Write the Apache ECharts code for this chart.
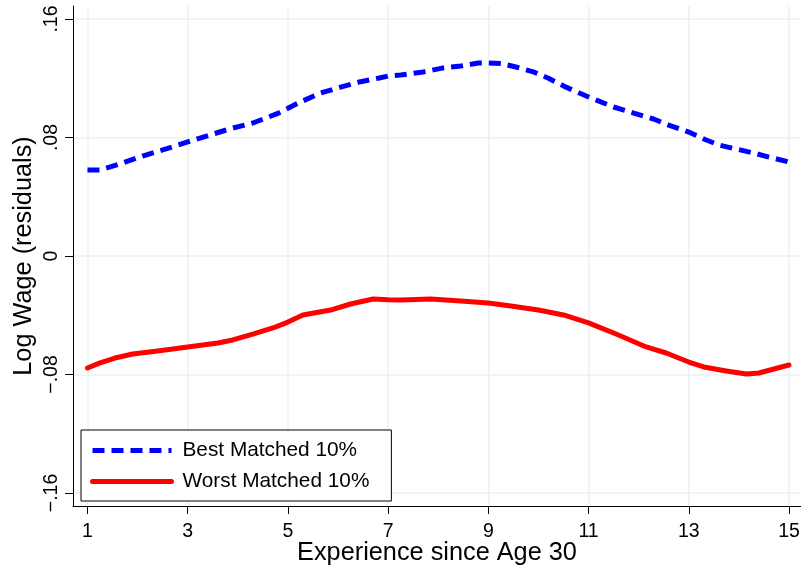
<!DOCTYPE html>
<html>
<head>
<meta charset="utf-8">
<script src="https://cdn.jsdelivr.net/npm/echarts@6/dist/echarts.min.js"></script>
<style>
html,body{margin:0;padding:0;background:#fff;}
#chart{width:801px;height:569px;}
</style>
</head>
<body>
<div id="chart"></div>
<script>
// Data
var bestX = [1, 1.25, 1.7, 2.1, 2.5, 3, 3.5, 3.9, 4.3, 4.8, 5, 5.25, 5.65, 6.05, 6.45, 6.8, 7, 7.25, 7.7, 8.1, 8.45, 8.8, 9, 9.25, 9.55, 9.9, 10.2, 10.55, 11, 11.5, 11.9, 12.3, 12.6, 13, 13.35, 13.6, 13.95, 14.3, 14.6, 15];
var bestY = [0.0581, 0.058, 0.0628, 0.0675, 0.0716, 0.077, 0.0823, 0.0864, 0.0898, 0.0963, 0.0997, 0.104, 0.110, 0.114, 0.1177, 0.120, 0.1215, 0.1222, 0.1243, 0.127, 0.1283, 0.1303, 0.1303, 0.130, 0.1276, 0.1243, 0.120, 0.114, 0.1074, 0.1006, 0.0965, 0.0925, 0.0884, 0.0837, 0.0783, 0.075, 0.0722, 0.0695, 0.0668, 0.0635];
var worstX = [1, 1.25, 1.55, 1.9, 2.4, 3, 3.6, 3.9, 4.3, 4.7, 5, 5.3, 5.85, 6.25, 6.7, 7, 7.25, 7.85, 8.45, 9, 9.45, 10, 10.5, 11, 11.55, 12.15, 12.55, 13, 13.3, 13.75, 14.15, 14.4, 15];
var worstY = [-0.0756, -0.0722, -0.0689, -0.0662, -0.0641, -0.0614, -0.0587, -0.0567, -0.0527, -0.0486, -0.0446, -0.0398, -0.0365, -0.0324, -0.029, -0.0295, -0.0297, -0.029, -0.0304, -0.0317, -0.0338, -0.0365, -0.0398, -0.0452, -0.0527, -0.0614, -0.0655, -0.0716, -0.0749, -0.0776, -0.0797, -0.079, -0.0736];
var xTicks = [1, 3, 5, 7, 9, 11, 13, 15];
var yTicks = [-0.16, -0.08, 0, 0.08, 0.16];
var yTickLabels = ['\u2212.16', '\u2212.08', '0', '.08', '.16'];
var seriesNames = ['Best Matched 10%', 'Worst Matched 10%'];

function pairs(xs, ys) { return xs.map(function (x, i) { return [x, ys[i]]; }); }

var FONT = 'Liberation Sans, Arial, Helvetica, sans-serif';
var gridColor = '#eaf0f2';

var chart = echarts.init(document.getElementById('chart'));
chart.setOption({
  animation: false,
  backgroundColor: '#fff',
  grid: { left: 73, right: 0, top: 6, bottom: 63, containLabel: false, outerBoundsMode: 'none' },
  xAxis: {
    type: 'value',
    min: 0.711, max: 15.24,
    name: 'Experience since Age 30',
    nameLocation: 'middle',
    nameGap: 35,
    nameMoveOverlap: false,
    nameTextStyle: { fontFamily: FONT, fontSize: 25.3, color: '#000' },
    axisLine: { show: true, onZero: false, lineStyle: { color: '#000', width: 1 } },
    axisTick: { show: true, length: 8, customValues: xTicks, lineStyle: { color: '#000', width: 1 } },
    axisLabel: { customValues: xTicks, margin: 16, fontFamily: FONT, fontSize: 19.5, color: '#000' },
    splitLine: { show: true, lineStyle: { color: gridColor, width: 1.5 } }
  },
  yAxis: {
    type: 'value',
    min: -0.1688, max: 0.1688,
    name: 'Log Wage (residuals)',
    nameLocation: 'middle',
    nameGap: 36,
    nameMoveOverlap: false,
    nameRotate: 90,
    nameTextStyle: { fontFamily: FONT, fontSize: 25.3, color: '#000' },
    axisLine: { show: true, onZero: false, lineStyle: { color: '#000', width: 1 } },
    axisTick: { show: true, length: 8, customValues: yTicks, lineStyle: { color: '#000', width: 1 } },
    axisLabel: {
      customValues: yTicks, rotate: 90, margin: 11, fontFamily: FONT, fontSize: 19.5, color: '#000',
      formatter: function (v) {
        for (var i = 0; i < yTicks.length; i++) { if (Math.abs(yTicks[i] - v) < 1e-9) return yTickLabels[i]; }
        return '';
      }
    },
    splitLine: { show: true, lineStyle: { color: gridColor, width: 1.5 } }
  },
  legend: {
    left: 81, top: 430,
    orient: 'vertical',
    data: seriesNames,
    itemWidth: 79, itemHeight: 20, itemGap: 10,
    padding: [10, 22, 9, 9],
    borderColor: '#000', borderWidth: 1,
    backgroundColor: '#fff',
    lineStyle: { width: 5 },
    itemStyle: { opacity: 0 },
    textStyle: { fontFamily: FONT, fontSize: 20.8, color: '#000', padding: [0, 0, 0, 6] }
  },
  series: [
    {
      name: seriesNames[0], type: 'line', data: pairs(bestX, bestY),
      symbol: 'none', smooth: false,
      lineStyle: { color: '#0000ff', width: 5, type: [12, 7] },
      itemStyle: { color: '#0000ff' }
    },
    {
      name: seriesNames[1], type: 'line', data: pairs(worstX, worstY),
      symbol: 'none', smooth: false,
      lineStyle: { color: '#ff0000', width: 5, type: 'solid', join: 'round', cap: 'round' },
      itemStyle: { color: '#ff0000' }
    }
  ]
});
</script>
</body>
</html>
